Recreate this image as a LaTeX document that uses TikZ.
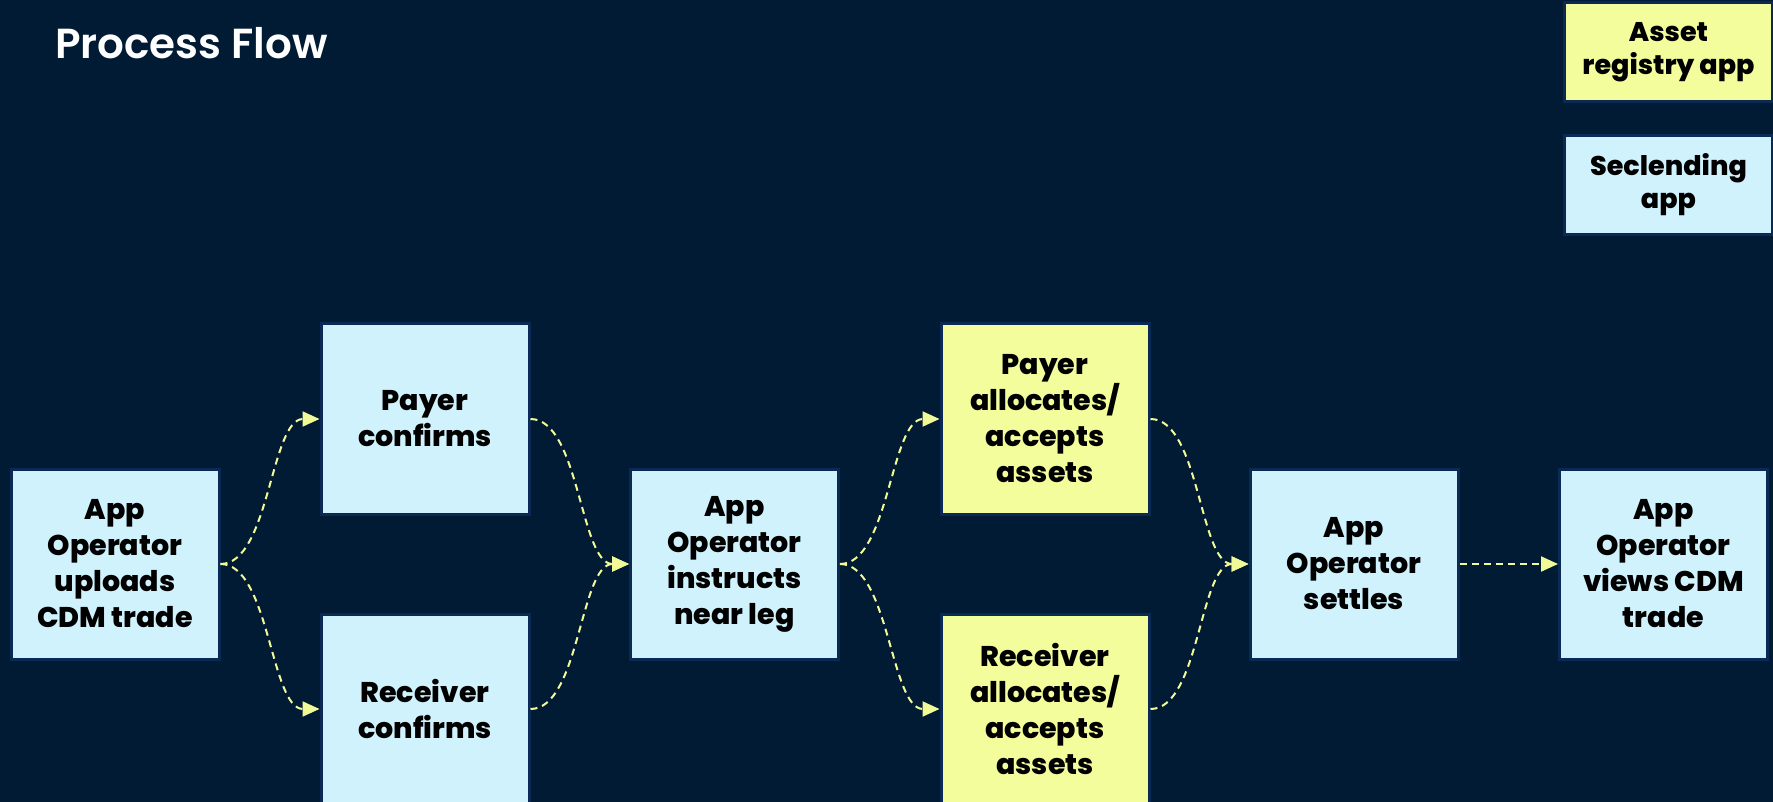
\documentclass[tikz,border=0pt]{standalone}
\usepackage{fontspec}
\setmainfont{Poppins}
\newfontfamily\titlefont{Poppins}[UprightFont={* SemiBold}]
\newfontfamily\boxfont{Poppins}[UprightFont={* ExtraBold}]
\usetikzlibrary{arrows.meta}
\definecolor{bgc}{HTML}{011B34}
\definecolor{bord}{HTML}{0A2A55}
\definecolor{cyanbox}{HTML}{CFF2FD}
\definecolor{yelbox}{HTML}{F3FD9B}
\definecolor{arr}{HTML}{F1FA96}
\tikzset{
  box/.style={draw=bord, line width=3pt, minimum width=208pt, minimum height=190pt,
    inner sep=2pt, align=center, text=black, font=\fontsize{28.5}{36}\boxfont},
  cbox/.style={box, fill=cyanbox},
  ybox/.style={box, fill=yelbox},
  lbox/.style={box, minimum height=99pt, font=\fontsize{27}{33}\boxfont},
  flow/.style={draw=arr, line width=2pt, dash pattern=on 7pt off 5pt,
    -{Triangle[length=17pt,width=15pt,fill=arr]}},
}
\begin{document}
\begin{tikzpicture}[x=1pt,y=-1pt]
\fill[bgc] (0,0) rectangle (1773,802);
\useasboundingbox (0,0) rectangle (1773,802);
\node[anchor=base west, text=white, font=\fontsize{42}{50}\titlefont, inner sep=0pt] (title) at (55,59) {Process Flow};

\node[lbox, fill=yelbox] (asset) at (1668.5,52) {Asset\\registry app};
\node[lbox, fill=cyanbox] (secl) at (1668.5,185) {Seclending\\app};

\node[cbox] (b1) at (115,564) {App\\Operator\\uploads\\CDM trade};
\node[cbox] (payer) at (425,419) {Payer\\confirms};
\node[cbox] (recv) at (425,709) {Receiver\\confirms};
\node[cbox] (mid) at (734.5,564) {App\\Operator\\instructs\\near leg};
\node[ybox] (pa) at (1045,419) {Payer\\allocates/\\accepts\\assets};
\node[ybox] (ra) at (1045,709) {Receiver\\allocates/\\accepts\\assets};
\node[cbox] (settle) at (1354,564) {App\\Operator\\settles};
\node[cbox] (views) at (1663.5,564) {App\\Operator\\views CDM\\trade};

\draw[flow] (b1.east) .. controls +(49,0) and +(-49,0) .. (payer.west);
\draw[flow] (b1.east) .. controls +(49,0) and +(-49,0) .. (recv.west);
\draw[flow] (payer.east) .. controls +(49,0) and +(-49,0) .. (mid.west);
\draw[flow] (recv.east) .. controls +(49,0) and +(-49,0) .. (mid.west);
\draw[flow] (mid.east) .. controls +(49,0) and +(-49,0) .. (pa.west);
\draw[flow] (mid.east) .. controls +(49,0) and +(-49,0) .. (ra.west);
\draw[flow] (pa.east) .. controls +(49,0) and +(-49,0) .. (settle.west);
\draw[flow] (ra.east) .. controls +(49,0) and +(-49,0) .. (settle.west);
\draw[flow] (settle.east) -- (views.west);
\end{tikzpicture}
\end{document}
